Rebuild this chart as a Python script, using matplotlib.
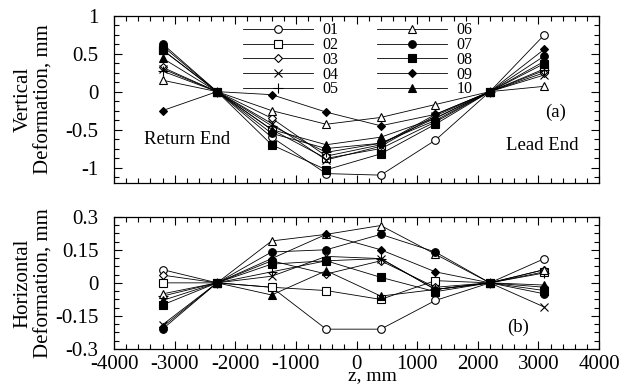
"""Vertical and horizontal deformation profiles along z for ten coils."""
import matplotlib

matplotlib.use("Agg")
import matplotlib.pyplot as plt
from matplotlib.ticker import MultipleLocator

# Positions along the magnet axis, mm
Z = [-3200, -2300, -1400, -500, 400, 1300, 2200, 3100]

LABELS = ["01", "02", "03", "04", "05", "06", "07", "08", "09", "10"]

# Vertical deformation, mm (panel a)
V01 = [0.60, 0.0, -0.60, -1.08, -1.10, -0.64, 0.0, 0.75]
V02 = [0.55, 0.0, -0.50, -0.88, -0.75, -0.40, 0.0, 0.30]
V03 = [0.32, 0.0, -0.35, -0.85, -0.70, -0.30, 0.0, 0.25]
V04 = [0.30, 0.0, -0.42, -0.90, -0.72, -0.32, 0.0, 0.22]
V05 = [0.27, 0.0, -0.45, -0.80, -0.68, -0.35, 0.0, 0.28]
V06 = [0.15, 0.0, -0.25, -0.43, -0.34, -0.17, 0.0, 0.07]
V07 = [0.63, 0.0, -0.55, -0.75, -0.68, -0.38, 0.0, 0.47]
V08 = [0.55, 0.0, -0.70, -1.03, -0.82, -0.43, 0.0, 0.37]
V09 = [-0.25, 0.0, -0.04, -0.27, -0.45, -0.30, 0.0, 0.56]
V10 = [0.44, 0.0, -0.50, -0.70, -0.60, -0.35, 0.0, 0.40]

# Horizontal deformation, mm (panel b)
H01 = [0.06, 0.0, -0.02, -0.21, -0.21, -0.08, 0.0, 0.11]
H02 = [0.00, 0.0, -0.02, -0.035, -0.075, 0.01, 0.0, 0.05]
H03 = [0.035, 0.0, 0.10, 0.04, 0.10, -0.02, 0.0, 0.06]
H04 = [-0.19, 0.0, 0.03, 0.12, 0.11, -0.03, 0.0, -0.11]
H05 = [-0.06, 0.0, 0.05, 0.10, 0.11, -0.03, 0.0, 0.045]
H06 = [-0.05, 0.0, 0.19, 0.22, 0.26, 0.13, 0.0, 0.06]
H07 = [-0.21, 0.0, 0.14, 0.15, 0.22, 0.14, 0.0, -0.05]
H08 = [-0.10, 0.0, 0.085, 0.10, 0.025, -0.04, 0.0, -0.035]
H09 = [-0.20, 0.0, 0.11, 0.22, 0.15, 0.05, 0.0, -0.02]
H10 = [-0.08, 0.0, -0.055, 0.055, -0.06, -0.03, 0.0, -0.01]

VERTICAL = [V01, V02, V03, V04, V05, V06, V07, V08, V09, V10]
HORIZONTAL = [H01, H02, H03, H04, H05, H06, H07, H08, H09, H10]

# marker, filled?, size
STYLES = [
    ("o", False, 5.5), ("s", False, 5.5), ("D", False, 3.8), ("x", False, 5.5),
    ("+", False, 6.5), ("^", False, 5.5), ("o", True, 5.5), ("s", True, 5.5),
    ("D", True, 4.0), ("^", True, 5.5),
]

plt.rcParams["font.family"] = "Liberation Serif"


def draw_series(ax, values):
    lines = []
    for vals, label, (mk, filled, ms) in zip(values, LABELS, STYLES):
        (ln,) = ax.plot(Z, vals, color="black", linewidth=0.6, marker=mk,
                        markersize=ms, markeredgewidth=0.8,
                        markerfacecolor="black" if filled else "white",
                        markeredgecolor="black", label=label)
        lines.append(ln)
    return lines


def style_axis(ax, ymajor, yminor):
    ax.set_xlim(-4000, 4000)
    ax.xaxis.set_major_locator(MultipleLocator(1000))
    ax.xaxis.set_minor_locator(MultipleLocator(200))
    ax.yaxis.set_major_locator(MultipleLocator(ymajor))
    ax.yaxis.set_minor_locator(MultipleLocator(yminor))
    ax.tick_params(which="both", direction="in", top=True, right=True,
                   labelsize=15, width=0.8)
    ax.tick_params(which="major", length=6)
    ax.tick_params(which="minor", length=3.5)
    ax.tick_params(axis="y", pad=11)
    ax.tick_params(axis="x", pad=4)
    for s in ax.spines.values():
        s.set_linewidth(0.9)


fig = plt.figure(figsize=(6.21, 3.88), dpi=100)
ax1 = fig.add_axes([0.1836, 0.5291, 0.781, 0.4304])
ax2 = fig.add_axes([0.1836, 0.1005, 0.781, 0.341])

lines = draw_series(ax1, VERTICAL)
draw_series(ax2, HORIZONTAL)

style_axis(ax1, 0.5, 0.125)
ax1.set_ylim(-1.2, 1.0)
ax1.set_yticks([-1, -0.5, 0, 0.5, 1])
ax1.set_yticklabels(["-1", "-0.5", "0", "0.5", "1"])
ax1.tick_params(axis="x", labelbottom=False)
ax1.set_ylabel("Vertical\nDeformation, mm", fontsize=15, linespacing=1.15)
ax1.yaxis.set_label_coords(-0.125, 0.5)

style_axis(ax2, 0.15, 0.0375)
ax2.set_ylim(-0.3, 0.3)
ax2.set_yticks([-0.3, -0.15, 0, 0.15, 0.3])
ax2.set_yticklabels(["-0.3", "-0.15", "0", "0.15", "0.3"])
ax2.set_xticks(range(-4000, 4001, 1000))
ax2.set_xticklabels([str(v) for v in range(-4000, 4001, 1000)])
ax2.set_ylabel("Horizontal\nDeformation, mm", fontsize=15, linespacing=1.15)
ax2.yaxis.set_label_coords(-0.125, 0.5)
ax2.set_xlabel("z, mm", fontsize=14)
ax2.xaxis.set_label_coords(0.532, -0.14)

ax1.text(-2790, -0.63, "Return End", fontsize=13.5, ha="center", va="center")
ax1.text(3070, -0.71, "Lead End", fontsize=13.5, ha="center", va="center")
ax1.text(3290, -0.27, "(a)", fontsize=13.5, ha="center", va="center")
ax2.text(2660, -0.2, "(b)", fontsize=13.5, ha="center", va="center")

ax1.legend(handles=lines, ncol=2, loc="upper left", bbox_to_anchor=(0.265, 0.96),
           frameon=False, fontsize=11.5, handlelength=4.4, handletextpad=0.6,
           columnspacing=2.4, labelspacing=-0.08, borderpad=0, borderaxespad=0)

fig.savefig("out.png", dpi=100)
